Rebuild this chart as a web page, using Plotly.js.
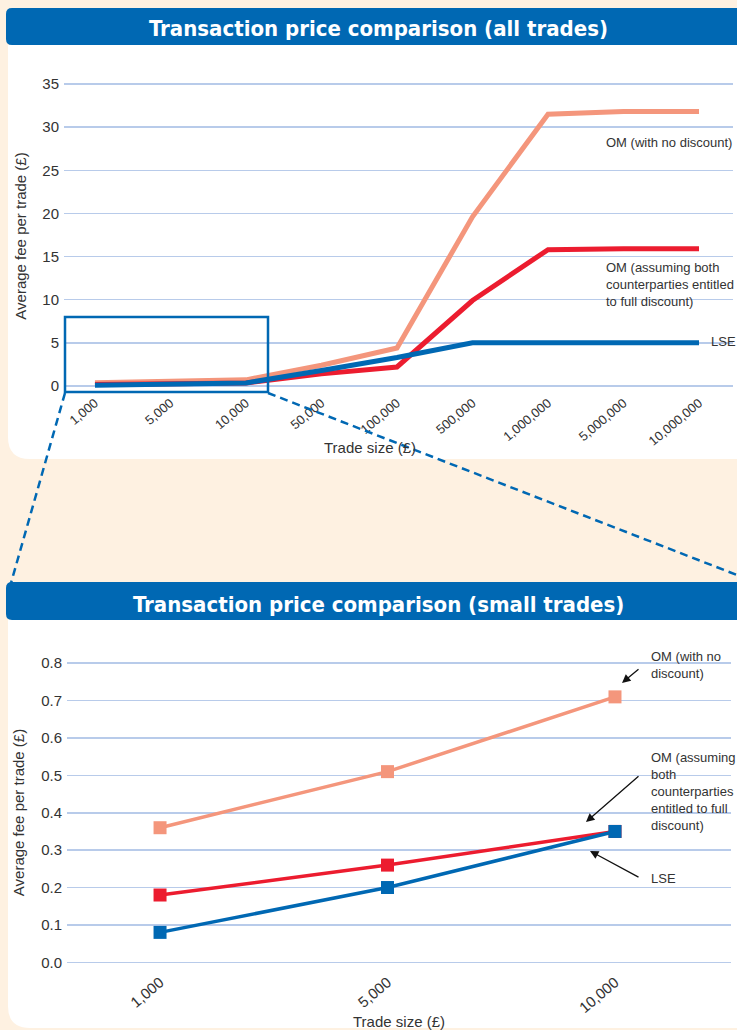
<!DOCTYPE html>
<html>
<head>
<meta charset="utf-8">
<script src="https://cdn.plot.ly/plotly-3.0.1.min.js"></script>
<style>
  html, body { margin: 0; padding: 0; background: #fef1e1; }
  #chart { width: 737px; height: 1030px; }
</style>
</head>
<body>
<div id="chart"></div>
<script>
// --- Data: all trades ---
const tradeSizesAll = ['1,000', '5,000', '10,000', '50,000', '100,000', '500,000', '1,000,000', '5,000,000', '10,000,000'];
const omNoDiscountAll = [0.36, 0.51, 0.71, 2.4, 4.4, 19.6, 31.5, 31.8, 31.8];
const omDiscountAll = [0.18, 0.26, 0.35, 1.4, 2.2, 9.9, 15.8, 15.9, 15.9];
const lseAll = [0.08, 0.20, 0.35, 1.8, 3.3, 5.0, 5.0, 5.0, 5.0];

// --- Data: small trades ---
const tradeSizesSmall = ['1,000', '5,000', '10,000'];
const omNoDiscountSmall = [0.36, 0.51, 0.71];
const omDiscountSmall = [0.18, 0.26, 0.35];
const lseSmall = [0.08, 0.20, 0.35];

// --- Colours ---
const SALMON = '#f4967c';
const RED = '#ec1c2f';
const BLUE = '#0068b3';
const GRID = '#b8cbea';
const TEXT = '#333333';
const FONT = '"Liberation Sans", Arial, sans-serif';

// pixel -> paper helpers (margins are zero, so paper == page)
const W = 737, H = 1030;
const px = x => x / W;
const py = y => 1 - y / H;

function roundedPath(x0, y0, x1, y1, r) { // r = [tl, tr, br, bl]
    const p = (x, y) => px(x).toFixed(5) + ',' + py(y).toFixed(5);
    return 'M' + p(x0 + r[0], y0) +
        ' L' + p(x1 - r[1], y0) + ' Q' + p(x1, y0) + ' ' + p(x1, y0 + r[1]) +
        ' L' + p(x1, y1 - r[2]) + ' Q' + p(x1, y1) + ' ' + p(x1 - r[2], y1) +
        ' L' + p(x0 + r[3], y1) + ' Q' + p(x0, y1) + ' ' + p(x0, y1 - r[3]) +
        ' L' + p(x0, y0 + r[0]) + ' Q' + p(x0, y0) + ' ' + p(x0 + r[0], y0) + ' Z';
}

const panel = (path, color) => ({
    type: 'path', xref: 'paper', yref: 'paper', path: path,
    fillcolor: color, line: { width: 0 }, layer: 'below'
});

const dashed = (x0, y0, x1, y1) => ({
    type: 'line', xref: 'paper', yref: 'paper',
    x0: px(x0), y0: py(y0), x1: px(x1), y1: py(y1),
    line: { color: BLUE, width: 2.5, dash: '8px,5px' }, layer: 'above'
});

// --- Traces ---
const topLine = (y, color, name) => ({
    x: tradeSizesAll, y: y, name: name, type: 'scatter', mode: 'lines',
    xaxis: 'x', yaxis: 'y',
    line: { color: color, width: 5 }
});
const smallLine = (y, color, name) => ({
    x: tradeSizesSmall, y: y, name: name, type: 'scatter', mode: 'lines+markers',
    xaxis: 'x2', yaxis: 'y2',
    line: { color: color, width: 3.5 },
    marker: { symbol: 'square', size: 13, color: color }
});

const data = [
    topLine(omNoDiscountAll, SALMON, 'OM (with no discount)'),
    topLine(omDiscountAll, RED, 'OM (assuming both counterparties entitled to full discount)'),
    topLine(lseAll, BLUE, 'LSE'),
    smallLine(omNoDiscountSmall, SALMON, 'OM (with no discount)'),
    smallLine(omDiscountSmall, RED, 'OM (assuming both counterparties entitled to full discount)'),
    smallLine(lseSmall, BLUE, 'LSE')
];

const note = (x, y, text, extra) => Object.assign({
    xref: 'paper', yref: 'paper', x: px(x), y: py(y), text: text,
    showarrow: false, xanchor: 'left', yanchor: 'middle', align: 'left',
    font: { family: FONT, size: 13, color: TEXT }
}, extra || {});

const arrow = (x, y, ax, ay) => ({
    xref: 'paper', yref: 'paper', x: px(x), y: py(y), text: '',
    showarrow: true, ax: ax, ay: ay, arrowhead: 2, arrowsize: 1.3,
    arrowwidth: 1.3, arrowcolor: '#111111'
});

const header = (y, text) => ({
    xref: 'paper', yref: 'paper', x: px(378), y: py(y), text: text,
    showarrow: false, xanchor: 'center', yanchor: 'middle',
    font: { family: '"Liberation Sans Narrow", "DejaVu Sans Condensed", sans-serif', size: 22, color: '#ffffff', weight: 'bold' }
});

const axisCommon = {
    showline: false, zeroline: false, ticks: '',
    tickfont: { family: FONT, color: TEXT },
    fixedrange: true
};

const layout = {
    width: W, height: H, autosize: false,
    margin: { l: 0, r: 0, t: 0, b: 0 },
    paper_bgcolor: '#fef1e1',
    plot_bgcolor: 'rgba(0,0,0,0)',
    showlegend: false,
    font: { family: FONT, color: TEXT },
    xaxis: Object.assign({}, axisCommon, {
        domain: [px(64), px(733)], anchor: 'y', type: 'category',
        range: [-0.41, 8.45], showgrid: false, tickangle: -40,
        tickfont: { family: FONT, color: TEXT, size: 13 }
    }),
    yaxis: Object.assign({}, axisCommon, {
        domain: [py(392), py(80)], anchor: 'x',
        range: [-0.7, 35.46], dtick: 5, gridcolor: GRID, gridwidth: 1.5,
        ticklabelstandoff: 4,
        tickfont: { family: FONT, color: TEXT, size: 15 },
        title: { text: 'Average fee per trade (£)', font: { family: FONT, size: 15, color: TEXT }, standoff: 12 }
    }),
    xaxis2: Object.assign({}, axisCommon, {
        domain: [px(67), px(731)], anchor: 'y2', type: 'category',
        range: [-0.409, 2.51], showgrid: false, tickangle: -40,
        tickfont: { family: FONT, color: TEXT, size: 15 },
        title: { text: 'Trade size (£)', font: { family: FONT, size: 15, color: TEXT }, standoff: 8 }
    }),
    yaxis2: Object.assign({}, axisCommon, {
        domain: [py(970), py(655)], anchor: 'x2',
        range: [-0.0206, 0.822], dtick: 0.1, tickformat: '.1f', gridcolor: GRID, gridwidth: 1.5,
        ticklabelstandoff: 4,
        tickfont: { family: FONT, color: TEXT, size: 15 },
        title: { text: 'Average fee per trade (£)', font: { family: FONT, size: 15, color: TEXT }, standoff: 12 }
    }),
    shapes: [
        panel(roundedPath(8, 45, 745, 459, [0, 0, 0, 22]), '#ffffff'),
        panel(roundedPath(6, 8, 745, 45, [6, 0, 0, 6]), BLUE),
        panel(roundedPath(8, 620, 745, 1028, [0, 0, 0, 22]), '#ffffff'),
        panel(roundedPath(6, 582, 745, 620, [6, 0, 0, 6]), BLUE),
        // zoom box and guide lines
        {
            type: 'rect', xref: 'paper', yref: 'paper',
            x0: px(65), y0: py(392), x1: px(268), y1: py(317),
            line: { color: BLUE, width: 2.5 }, layer: 'above'
        },
        dashed(65, 393, 11, 583),
        dashed(268, 393, 737, 575)
    ],
    annotations: [
        header(29, 'Transaction price comparison (all trades)'),
        header(604, 'Transaction price comparison (small trades)'),
        // top x-axis title placed by hand so it sits as close to the labels as in the original
        note(370, 448, 'Trade size (£)', { xanchor: 'center', font: { family: FONT, size: 15, color: TEXT } }),
        note(604, 142, 'OM (with no discount)'),
        note(604, 284, 'OM (assuming both<br>counterparties entitled<br>to full discount)'),
        note(709, 342, 'LSE'),
        note(649, 665, 'OM (with no<br>discount)'),
        note(649, 791, 'OM (assuming<br>both<br>counterparties<br>entitled to full<br>discount)'),
        note(649, 878, 'LSE'),
        arrow(622, 683, 18, -15),
        arrow(586, 822, 54, -47),
        arrow(590, 851, 50, 27)
    ]
};

Plotly.newPlot('chart', data, layout, { displayModeBar: false, staticPlot: true });
</script>
</body>
</html>
